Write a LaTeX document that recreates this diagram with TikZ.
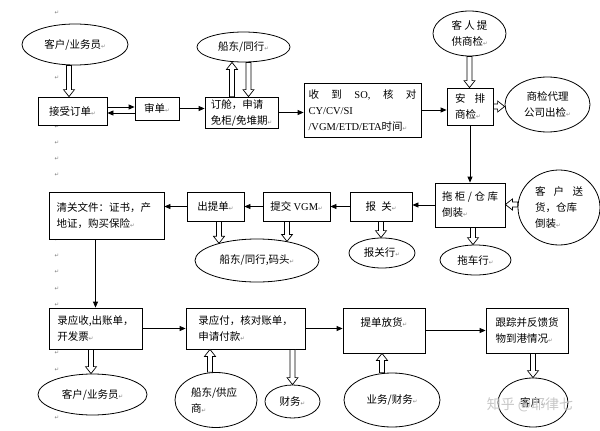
\documentclass[tikz,border=0pt]{standalone}
\usepackage{fontspec}
\setmainfont{Noto Sans CJK SC}
\newfontfamily\latf{Liberation Serif}
\newfontfamily\dvf{DejaVu Sans}
\usetikzlibrary{shapes.geometric,arrows.meta,calc}
\newcommand\pmk{{\dvf\fontsize{5.5}{6}\selectfont\color{black!50}↵}}
\newcommand\la[1]{{\latf #1}}
\begin{document}
\begin{tikzpicture}[x=1pt,y=-1pt,
  every node/.style={font=\fontsize{10.5}{16}\selectfont, inner sep=0pt},
  box/.style={draw, line width=0.8pt, fill=white, align=left},
  oval/.style={draw, ellipse, line width=0.8pt, fill=white, align=center},
  arr/.style={line width=0.8pt, -{Triangle[length=6pt,width=5pt]}},
  hollow/.style={to path={
    let \p1=($(\tikztotarget)-(\tikztostart)$), \n1={veclen(\x1,\y1)}, \n2={atan2(\y1,\x1)} in
    ($(\tikztostart)+(\n2+90:2.5pt)$)
    -- ($(\tikztostart)+(\n2:\n1-7pt)+(\n2+90:2.5pt)$)
    -- ($(\tikztostart)+(\n2:\n1-7pt)+(\n2+90:5.5pt)$)
    -- (\tikztotarget)
    -- ($(\tikztostart)+(\n2:\n1-7pt)+(\n2-90:5.5pt)$)
    -- ($(\tikztostart)+(\n2:\n1-7pt)+(\n2-90:2.5pt)$)
    -- ($(\tikztostart)+(\n2-90:2.5pt)$) -- cycle}},
  harr/.style={draw, fill=white, line width=0.7pt},
  mk/.style={text=black!50, font=\dvf\fontsize{5.5}{6}\selectfont}
]
\useasboundingbox (0,0) rectangle (600,431);
\fill[white] (0,0) rectangle (600,431);

% left margin paragraph marks (only those not hidden by shapes)
\foreach \k in {0,4,7,8,9,10,14,15,16,17,18,21,22,25} \node[mk] (m\k) at (57,{13+16.2*\k}) {↵};

% ---- top row
\node[oval, minimum width=106pt, minimum height=41pt] (e1) at (75,44.5) {客户/业务员\pmk};
\node[box, minimum width=69pt, minimum height=28pt] (b1) at (72.5,111) {接受订单\pmk};
\node[box, minimum width=44pt, minimum height=23pt] (b2) at (157,108.5) {审单\pmk};
\node[box, minimum width=73pt, minimum height=31pt] (b3) at (241.5,112.5) {订舱，申请\\免柜/免堆期\pmk};
\node[oval, minimum width=93pt, minimum height=30pt] (e2) at (243.5,47) {船东/同行\pmk};
\node[box, minimum width=117pt, minimum height=54pt, text width=108pt] (b4) at (362.5,110)
  {收\hfill 到\hfill\la{SO,}\hfill 核\hfill 对\\\la{CY/CV/SI}\\\la{/VGM/ETD/ETA}时间\pmk};
\node[box, minimum width=46pt, minimum height=37pt, text width=30pt] (b5) at (470,106.5) {安\hfill 排\\商检\pmk};
\node[oval, minimum width=73pt, minimum height=45pt, text width=36pt, align=left] (e3) at (469.5,33.5) {客\hfill 人\hfill 提\\供商检\pmk};
\node[oval, minimum width=85pt, minimum height=55pt] (e4) at (547.5,104.5) {商检代理\\公司出检\pmk};

% ---- middle row
\node[box, minimum width=70pt, minimum height=44pt, text width=56pt] (b6) at (470,205) {拖\hfill 柜\hfill /\hfill 仓\hfill 库\\倒装\pmk};
\node[oval, minimum width=82pt, minimum height=75pt, text width=48pt, align=left] (e5) at (559,207.5) {客\hfill 户\hfill 送\\货，仓库\\倒装\pmk};
\node[oval, minimum width=71pt, minimum height=30pt] (e6) at (475.5,260) {拖车行\pmk};
\node[box, minimum width=62pt, minimum height=29pt] (b7) at (381,206.5) {报\enspace 关\pmk};
\node[oval, minimum width=66pt, minimum height=30pt] (e7) at (382,253) {报关行\pmk};
\node[box, minimum width=67pt, minimum height=29pt] (b8) at (296.5,206.5) {提交 \la{VGM}\pmk};
\node[box, minimum width=57pt, minimum height=29pt] (b9) at (215.5,206.5) {出提单\pmk};
\node[oval, minimum width=124pt, minimum height=43pt] (e8) at (257,260.5) {船东/同行,码头\pmk};
\node[box, minimum width=115pt, minimum height=47pt, text width=100pt] (b10) at (106.5,215.5) {清关文件：证书，产\\地证，购买保险\pmk};

% ---- bottom row
\node[box, minimum width=93pt, minimum height=41pt] (b11) at (95.5,328.5) {录应收,出账单，\\开发票\pmk};
\node[oval, minimum width=109pt, minimum height=41pt] (e9) at (92.5,394.5) {客户/业务员\pmk};
\node[box, minimum width=119pt, minimum height=41pt] (b12) at (245.5,328.5) {录应付，核对账单，\\申请付款\pmk};
\node[oval, minimum width=82pt, minimum height=55pt, text width=50pt, align=left] (e10) at (216,400) {船东/供应\\商\pmk};
\node[oval, minimum width=55pt, minimum height=33pt] (e11) at (292.5,401.5) {财务\pmk};
\node[box, minimum width=82pt, minimum height=45pt] (b13) at (384,330.5) {提单放货\pmk\\\mbox{}};
\node[oval, minimum width=96pt, minimum height=54pt] (e12) at (392,400) {业务/财务\pmk};
\node[box, minimum width=82pt, minimum height=45pt] (b14) at (527,330.5) {跟踪并反馈货\\物到港情况\pmk};
\node[oval, minimum width=70pt, minimum height=49pt] (e13) at (533,402.5) {客户\pmk};

% ---- plain arrows
\coordinate (ra) at ([yshift=4pt]b1.east);
\coordinate (rb) at ([yshift=-2pt]b1.east);
\draw[arr] (ra) -- (ra -| b2.west);
\draw[arr] (rb -| b2.west) -- (rb);
\draw[arr] (b2.east) -- (b2.east -| b3.west);
\draw[arr] (b3.east) -- (b3.east -| b4.west);
\draw[arr] (b4.east) -- (b4.east -| b5.west);
\draw[arr] (b5.south) -- (b5.south |- b6.north);
\draw[arr] (b6.west) -- (b6.west -| b7.east);
\draw[arr] (b7.west) -- (b7.west -| b8.east);
\draw[arr] (b8.west) -- (b8.west -| b9.east);
\draw[arr] (b9.west) -- (b9.west -| b10.east);
\coordinate (rc) at ([xshift=-11pt]b10.south);
\draw[arr] (rc) -- (rc |- b11.north);
\draw[arr] (b11.east) -- (b11.east -| b12.west);
\draw[arr] (b12.east) -- (b12.east -| b13.west);
\draw[arr] (b13.east) -- (b13.east -| b14.west);

% ---- hollow arrows
\coordinate (ha) at ([xshift=-6pt]e1.south);
\draw[harr] (ha) to[hollow] (ha |- b1.north);
\coordinate (hb) at ([xshift=-9.5pt]b3.north);
\draw[harr] (hb) to[hollow] (hb |- e2.south);
\coordinate (hc) at ([xshift=5pt]e2.south);
\draw[harr] (hc) to[hollow] (hc |- b3.north);
\coordinate (hd) at (e3.south);
\draw[harr] (hd) to[hollow] (hd |- b5.north);
\coordinate (he) at (b5.east);
\draw[harr] (he) to[hollow] (he -| e4.west);
\coordinate (hf) at ([yshift=3pt]e5.west);
\draw[harr] (hf) to[hollow] (hf -| b6.east);
\coordinate (hg) at ([xshift=3pt]b6.south);
\draw[harr] (hg) to[hollow] (hg |- e6.north);
\coordinate (hh) at (b7.south);
\draw[harr] (hh) to[hollow] (hh |- e7.north);
\coordinate (hi) at ([xshift=3.5pt]b9.south);
\draw[harr] (hi) to[hollow] (hi |- e8.156);
\coordinate (hj) at ([xshift=-9.5pt]b8.south);
\draw[harr] (hj) to[hollow] (hj |- e8.32);
\coordinate (hk) at ([xshift=-4.5pt]b11.south);
\draw[harr] (hk) to[hollow] (hk |- e9.north);
\coordinate (hl) at ([xshift=-6pt]e10.north);
\draw[harr] (hl) to[hollow] (hl |- b12.south);
\coordinate (hm) at (e11.north |- b12.south);
\draw[harr] (hm) to[hollow] (e11.north);
\coordinate (hn) at ([xshift=-2pt]b13.south);
\draw[harr] (hn |- e12.north) to[hollow] (hn);
\coordinate (ho) at (e13.north |- b14.south);
\draw[harr] (ho) to[hollow] (e13.north);

% watermark
\node[text=black!22, font=\fontsize{14}{14}\selectfont] (wm) at (530,405) {知乎 @耶律七};
\end{tikzpicture}
\end{document}
